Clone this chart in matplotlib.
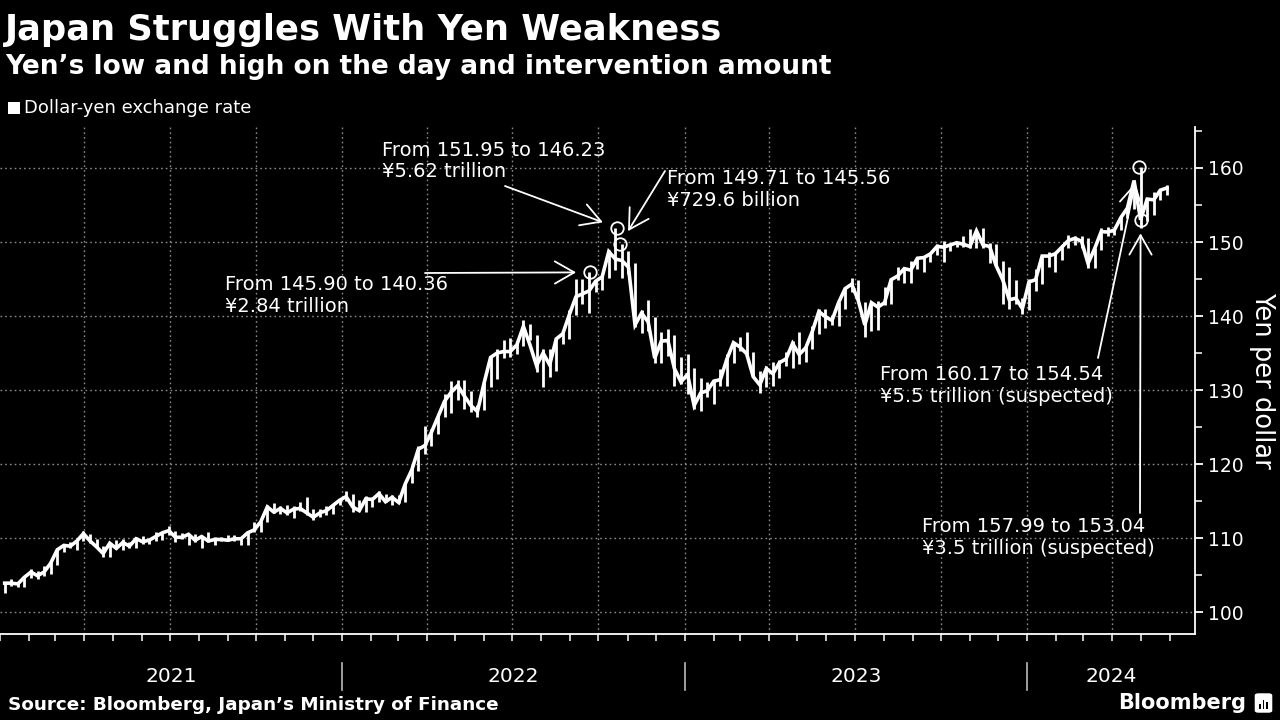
import matplotlib
matplotlib.use('Agg')
import matplotlib.pyplot as plt
import matplotlib.dates as mdates
import matplotlib.transforms as mtransforms
from matplotlib.patches import Rectangle, FancyBboxPatch
import pandas as pd
import numpy as np

# ---------------- data (weekly low / high / close, USD/JPY) ----------------
lo21 = [102.6,103.5,103.4,103.4,104.6,104.5,104.9,105.1,106.4,108.1,108.6,108.4,109.6,109.3,108.6,107.5,107.5,108.5,108.4,108.6,108.6,109.2,109.2,109.6,109.7,110.4,109.5,109.9,109.1,109.4,108.7,109.4,109.1,109.6,109.6,109.6,109.1,109.1,110.8,110.8,112.1,113.4,113.3,113.1,112.7,113.6,113.1,112.5,112.8,113.1,113.3,114.4]
hi21 = [104.0,104.4,104.1,104.9,105.8,105.6,106.2,106.7,108.6,109.2,109.4,109.8,110.97,110.6,109.8,108.9,109.3,109.7,109.8,109.4,110.2,110.3,109.8,110.8,110.8,111.66,111.0,110.7,110.6,110.6,110.3,110.8,110.1,110.2,110.4,110.4,110.1,110.8,112.1,112.3,114.5,114.7,114.3,114.4,114.3,114.9,115.5,113.9,113.9,114.3,114.5,115.2]
cl21 = [103.9,103.9,103.8,104.7,105.4,104.9,105.4,106.6,108.4,109.0,108.9,109.6,110.6,109.6,108.8,107.9,109.3,108.6,109.4,108.9,109.9,109.5,109.7,110.2,110.7,111.0,110.1,110.1,110.5,109.7,110.2,109.6,109.8,109.8,109.7,109.9,109.9,110.7,111.1,112.2,114.2,113.5,114.0,113.4,113.9,114.0,113.4,112.8,113.4,113.7,114.4,115.1]

lo22 = [115.0,113.5,113.6,113.5,114.2,114.9,114.8,114.4,114.7,114.8,117.4,119.1,121.3,122.4,124.0,126.3,126.9,128.6,127.5,127.0,126.4,127.3,130.4,131.5,134.3,134.5,134.8,135.9,136.8,132.5,130.4,131.7,132.6,136.2,136.9,140.2,141.6,140.36,143.3,143.5,145.2,146.2,145.1,145.7,138.5,137.7,138.0,133.6,133.6,134.6,130.6,130.8]
hi22 = [116.35,115.9,115.1,115.7,115.6,116.3,116.0,115.8,115.8,117.4,119.4,122.4,125.1,124.7,126.7,129.4,131.25,131.3,131.3,129.8,128.0,130.9,134.6,135.6,136.7,137.0,136.6,139.4,138.9,137.5,135.5,135.6,137.0,137.7,140.8,145.0,144.96,145.90,144.9,145.5,148.9,151.95,149.7,148.8,147.2,140.8,142.2,139.9,137.9,138.2,137.5,134.4]
cl22 = [115.6,114.2,113.7,115.3,115.2,116.0,114.9,115.5,114.8,117.3,119.2,122.0,122.5,124.3,126.4,128.5,129.7,130.6,129.2,127.9,127.1,130.9,134.4,135.0,135.2,135.2,136.1,138.6,136.1,133.3,135.0,133.4,136.9,137.6,140.2,142.6,143.0,143.4,144.7,145.3,148.7,147.7,147.5,146.6,138.8,140.4,139.2,134.3,136.6,136.7,132.9,131.1]

lo23 = [129.5,127.5,127.2,129.0,128.1,130.5,130.6,133.6,135.3,134.6,131.7,129.6,130.4,130.6,131.6,133.3,133.0,133.5,133.8,135.5,137.6,138.4,138.8,138.6,140.9,143.3,142.1,137.2,138.0,138.1,141.5,141.6,144.9,144.5,144.4,146.3,145.9,147.3,148.3,147.3,148.8,149.3,149.3,149.2,149.2,149.2,147.1,146.7,141.6,140.9,141.6,140.25]
hi23 = [134.8,133.0,131.6,131.1,131.2,132.9,134.8,136.5,137.1,137.9,135.1,132.6,133.2,133.8,134.0,135.1,136.6,137.8,136.0,138.7,140.9,140.9,140.2,141.9,143.8,145.07,144.9,141.9,141.9,142.0,143.9,145.0,146.6,146.6,147.4,147.9,148.0,148.5,149.7,150.2,149.8,150.0,150.8,151.7,151.6,151.9,149.8,149.7,147.4,146.6,144.9,142.5]
cl23 = [132.1,127.9,129.6,129.9,131.2,131.4,134.2,136.4,135.8,134.9,131.8,130.7,132.9,132.2,133.7,134.2,136.3,134.8,135.7,137.9,140.6,139.9,139.4,141.8,143.7,144.3,142.1,138.8,141.8,141.2,141.8,144.9,145.4,146.4,146.2,147.8,147.9,148.4,149.4,149.3,149.6,149.9,149.7,149.4,151.5,149.6,149.4,146.8,144.9,142.2,142.4,141.0]

lo24 = [140.8,143.4,144.3,146.6,145.9,147.6,149.2,149.6,149.2,146.5,146.5,148.9,150.8,151.0,151.6,153.3,154.5,151.86,152.8,153.6,155.7,156.4]
hi24 = [145.0,146.4,148.3,148.7,148.6,149.6,150.9,150.8,150.8,150.5,149.2,151.9,151.97,151.9,153.4,154.8,158.4,160.17,155.9,156.8,157.2,157.7]
cl24 = [144.6,144.9,148.1,148.1,148.4,149.3,150.2,150.5,150.1,147.1,149.1,151.4,151.35,151.6,153.3,154.6,158.3,153.0,155.8,155.7,157.0,157.3]

week_end = pd.date_range('2021-01-08', '2024-05-31', freq='W-FRI')
wk_low = lo21 + lo22 + lo23 + lo24
wk_high = hi21 + hi22 + hi23 + hi24
wk_close = cl21 + cl22 + cl23 + cl24

# intervention episodes
iv_dates = ['2022-09-22', '2022-10-21', '2022-10-24', '2024-04-29', '2024-05-01']
iv_from = [145.90, 151.95, 149.71, 160.17, 157.99]
iv_to = [140.36, 146.23, 145.56, 154.54, 153.04]
iv_amount = ['¥2.84 trillion', '¥5.62 trillion', '¥729.6 billion',
             '¥5.5 trillion (suspected)', '¥3.5 trillion (suspected)']
iv_circle = [145.90, 151.95, 149.71, 160.17, 153.04]

years = ['2021', '2022', '2023', '2024']
y_ticks = [100, 110, 120, 130, 140, 150, 160]

# ---------------- figure ----------------
W, H = 1280, 720
fig = plt.figure(figsize=(12.8, 7.2), dpi=100, facecolor='black')
plt.rcParams['font.family'] = ['DejaVu Sans']

ax_l, ax_r, ax_t, ax_b = 0, 1195, 127, 634
ax = fig.add_axes([ax_l / W, 1 - ax_b / H, (ax_r - ax_l) / W, (ax_b - ax_t) / H])
ax.set_facecolor('black')

x0 = pd.Timestamp('2021-01-01')
x1 = pd.Timestamp('2024-06-28')
ax.set_xlim(mdates.date2num(x0), mdates.date2num(x1))
ax.set_ylim(97.03, 165.54)

xpos = mdates.date2num(week_end - pd.Timedelta(days=2))
ax.vlines(xpos, wk_low, wk_high, color='white', lw=2.0, zorder=3)
ax.plot(xpos, wk_close, color='white', lw=2.6, zorder=3, solid_joinstyle='miter')

# circles at intervention points
ivx = mdates.date2num(pd.to_datetime(iv_dates))
ax.plot(ivx, iv_circle, 'o', mfc='none', mec='white', ms=9, mew=1.3, zorder=5)

# grid
for yv in y_ticks:
    ax.axhline(yv, color='#8a8a8a', lw=1.0, ls=(0, (1.2, 2.2)), zorder=1)
for q in pd.date_range('2021-04-01', '2024-06-01', freq='QS'):
    ax.axvline(mdates.date2num(q), color='#8a8a8a', lw=1.0, ls=(0, (1.2, 2.2)), zorder=1)

# spines / ticks
for s in ['left', 'top']:
    ax.spines[s].set_visible(False)
for s in ['bottom', 'right']:
    ax.spines[s].set_color('white')
    ax.spines[s].set_linewidth(1.3)

ax.yaxis.tick_right()
ax.set_yticks(y_ticks)
ax.set_yticks([105, 115, 125, 135, 145, 155, 165], minor=True)
ax.tick_params(axis='y', which='major', direction='out', length=6, width=1.3,
               colors='white', labelsize=13.5, pad=3)
ax.tick_params(axis='y', which='minor', direction='out', length=5, width=1.1, colors='white')

ax.xaxis.set_major_locator(mdates.MonthLocator())
ax.xaxis.set_major_formatter(plt.NullFormatter())
ax.tick_params(axis='x', which='major', direction='out', length=5, width=1.1, colors='white')

# year labels and separators
trans = mtransforms.blended_transform_factory(ax.transData, ax.transAxes)
ah = ax_b - ax_t
for i, yr in enumerate(years):
    start = mdates.date2num(pd.Timestamp(f'{yr}-01-01'))
    end = mdates.date2num(pd.Timestamp(f'{int(yr)+1}-01-01'))
    end = min(end, mdates.date2num(x1))
    ax.text((start + end) / 2, -(677 - ax_b) / ah, yr, transform=trans, color='white',
            fontsize=14.5, ha='center', va='center', clip_on=False)
    if i > 0:
        ax.plot([start, start], [-(663 - ax_b) / ah, -(690 - ax_b) / ah], transform=trans,
                color='#bbbbbb', lw=1.2, clip_on=False)

# axis label
fig.text(1262 / W, 1 - 380 / H, 'Yen per dollar', rotation=270, color='white',
         fontsize=18.5, ha='center', va='center')

# ---------------- annotations ----------------
text_pos = [(225, 285), (382, 150), (667, 179), (880, 375), (922, 527)]
tail_pos = [(425, 273), (505, 186), (665, 171), (1098, 358), (1140, 513)]
shrink = [10, 11, 11, 12, 10]
for i in range(len(iv_dates)):
    tx, ty = text_pos[i]
    fig.text(tx / W, 1 - ty / H, f'From {iv_from[i]:.2f} to {iv_to[i]:.2f}', color='white',
             fontsize=14, ha='left', va='center')
    fig.text(tx / W, 1 - (ty + 21.5) / H, iv_amount[i], color='white',
             fontsize=14, ha='left', va='center')
    ax.annotate('', xy=(ivx[i], iv_circle[i]), xycoords='data',
                xytext=(tail_pos[i][0], H - tail_pos[i][1]), textcoords='figure pixels',
                arrowprops=dict(arrowstyle='->,head_length=0.7,head_width=0.4', color='white',
                                lw=1.3, shrinkA=0, shrinkB=shrink[i], mutation_scale=20),
                annotation_clip=False)

# ---------------- titles / legend / footer ----------------
fig.text(5 / W, 1 - 40 / H, 'Japan Struggles With Yen Weakness', color='white',
         fontsize=25.4, fontweight='bold', ha='left', va='baseline')
fig.text(5 / W, 1 - 74 / H, 'Yen’s low and high on the day and intervention amount', color='white',
         fontsize=19, fontweight='bold', ha='left', va='baseline')
fig.patches.append(Rectangle((8 / W, 1 - 114 / H), 12 / W, 12 / H, transform=fig.transFigure,
                             facecolor='white', edgecolor='none'))
fig.text(24 / W, 1 - 108 / H, 'Dollar-yen exchange rate', color='white',
         fontsize=13, ha='left', va='center')
fig.text(8 / W, 1 - 705 / H, 'Source: Bloomberg, Japan’s Ministry of Finance', color='white',
         fontsize=13.2, fontweight='bold', ha='left', va='center')
fig.text(1246 / W, 1 - 703 / H, 'Bloomberg', color='white', fontsize=15, fontweight='bold',
         ha='right', va='center')
fig.patches.append(FancyBboxPatch((1256 / W, 1 - 712 / H), 15 / W, 18 / H,
                                  boxstyle='round,pad=0.001,rounding_size=0.003',
                                  transform=fig.transFigure, facecolor='white', edgecolor='none'))
for k, hh in enumerate([5, 9, 7]):
    fig.patches.append(Rectangle(((1259 + k * 3.5) / W, 1 - 709 / H), 1.6 / W, hh / H,
                                 transform=fig.transFigure, facecolor='black', edgecolor='none'))

fig.savefig('out.png', dpi=100, facecolor='black')
